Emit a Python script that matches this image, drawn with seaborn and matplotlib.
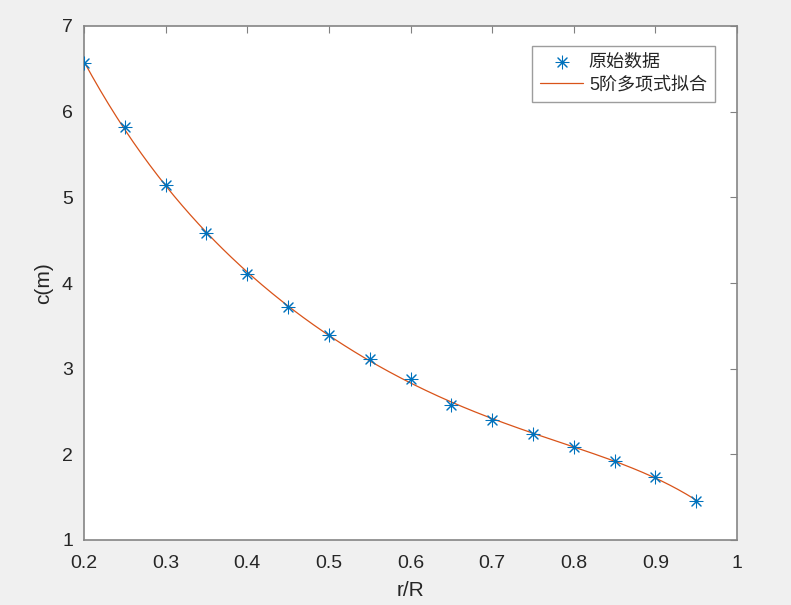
import numpy as np
import pandas as pd
import matplotlib
matplotlib.use("Agg")
import matplotlib.pyplot as plt
import seaborn as sns

# data
r_R = [0.20, 0.25, 0.30, 0.35, 0.40, 0.45, 0.50, 0.55, 0.60, 0.65, 0.70, 0.75, 0.80, 0.85, 0.90, 0.95]
c_m = [6.57, 5.82, 5.14, 4.58, 4.11, 3.72, 3.39, 3.11, 2.88, 2.58, 2.40, 2.24, 2.09, 1.92, 1.74, 1.455]
fit_degree = 5
x_ticks = [0.2, 0.3, 0.4, 0.5, 0.6, 0.7, 0.8, 0.9, 1.0]
x_tick_labels = ["0.2", "0.3", "0.4", "0.5", "0.6", "0.7", "0.8", "0.9", "1"]
y_ticks = [1, 2, 3, 4, 5, 6, 7]
label_data = "原始数据"
label_fit = "5阶多项式拟合"

sns.set_style("white")
plt.rcParams["font.family"] = ["Liberation Sans", "Noto Sans CJK SC", "DejaVu Sans"]

df = pd.DataFrame({"x": r_R, "y": c_m})
coef = np.polyfit(r_R, c_m, fit_degree)
xf = np.linspace(min(r_R), max(r_R), 300)
fit_df = pd.DataFrame({"x": xf, "y": np.polyval(coef, xf)})

fig = plt.figure(figsize=(7.91, 6.05), dpi=100, facecolor="#F0F0F0")
ax = fig.add_axes([84/791, 65/605, 653/791, 514/605])
ax.set_facecolor("white")

sns.scatterplot(data=df, x="x", y="y", ax=ax, marker=(8, 2, 0), s=85,
                color="#0072BD", linewidth=0.75, edgecolor="#0072BD", label=label_data, zorder=3)
sns.lineplot(data=fit_df, x="x", y="y", ax=ax, color="#D95319", linewidth=0.9,
             label=label_fit, zorder=2)

ax.set_xlim(0.2, 1.0)
ax.set_ylim(1, 7)
ax.set_xticks(x_ticks)
ax.set_xticklabels(x_tick_labels)
ax.set_yticks(y_ticks)
ax.tick_params(direction="in", length=5, width=0.8, colors="#262626", labelsize=14,
               top=True, right=True, labeltop=False, labelright=False)
ax.tick_params(axis="both", color="#808080")
ax.tick_params(axis="x", pad=11)
ax.tick_params(axis="y", pad=8)
for sp in ax.spines.values():
    sp.set_color("#858585")
    sp.set_linewidth(1.2)
    sp.set_visible(True)

ax.set_xlabel("r/R", fontsize=15, color="#262626", labelpad=6)
ax.set_ylabel("c(m)", fontsize=15, color="#262626", labelpad=6)

leg = ax.legend(loc="upper right", bbox_to_anchor=((715-84)/653, (540-46)/514),
                borderaxespad=0, fontsize=13, frameon=True, fancybox=False,
                handlelength=2.4, borderpad=0.45, labelspacing=0.3, handletextpad=0.3)
leg.get_frame().set_edgecolor("#858585")
leg.get_frame().set_linewidth(1.0)

fig.savefig("out.png", dpi=100, facecolor=fig.get_facecolor())
